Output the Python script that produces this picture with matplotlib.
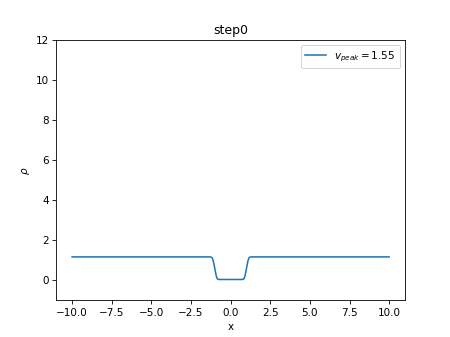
import matplotlib
matplotlib.use("Agg")
import matplotlib.pyplot as plt

x_vals = [-10.0, -1.3, -1.2, -1.15, -1.1, -1.05, -1.0, -0.95, -0.9, -0.85, -0.8, -0.7,
          0.7, 0.8, 0.85, 0.9, 0.95, 1.0, 1.05, 1.1, 1.15, 1.2, 1.3, 10.0]
rho_vals = [1.15, 1.15, 1.13, 1.08, 0.97, 0.78, 0.58, 0.37, 0.18, 0.07, 0.03, 0.02,
            0.02, 0.03, 0.07, 0.18, 0.37, 0.58, 0.78, 0.97, 1.08, 1.13, 1.15, 1.15]
v_peak = 1.55
title_text = "step0"

fig, ax = plt.subplots(figsize=(6, 4.5), dpi=75)
ax.plot(x_vals, rho_vals, label=r"$v_{peak} = %.2f$" % v_peak)
ax.set_ylim(-1, 12)
ax.set_xlabel("x")
ax.set_ylabel(r"$\rho$")
ax.set_title(title_text)
ax.legend(loc="upper right")
fig.savefig("out.png", dpi=75)
